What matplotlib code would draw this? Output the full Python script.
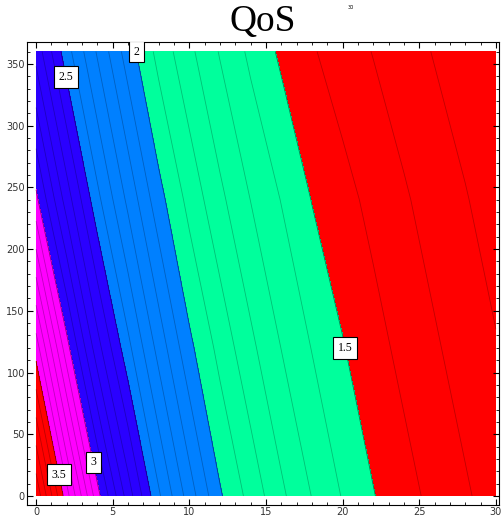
import numpy as np
from matplotlib import pyplot as plt

# QoS on a coarse grid (x every 2, y every 120)
x_nodes = [0, 2, 4, 6, 8, 10, 12, 14, 16, 18, 20, 22, 24, 26, 28, 30]
y_nodes = [0, 120, 240, 360]
qos_y0 = [3.90, 3.45, 3.03, 2.71, 2.43, 2.21, 2.01, 1.888, 1.767, 1.664, 1.578, 1.504, 1.447, 1.393, 1.344, 1.296]
qos_y120 = [3.46, 3.03, 2.70, 2.44, 2.22, 2.02, 1.89, 1.77, 1.665, 1.58, 1.505, 1.447, 1.393, 1.344, 1.296, 1.255]
qos_y240 = [3.02, 2.71, 2.44, 2.23, 2.03, 1.89, 1.77, 1.665, 1.58, 1.497, 1.445, 1.393, 1.344, 1.296, 1.255, 1.215]
qos_y360 = [2.72, 2.45, 2.24, 2.04, 1.89, 1.77, 1.66, 1.565, 1.484, 1.425, 1.375, 1.33, 1.285, 1.245, 1.21, 1.175]

band_levels = [0, 1.5, 2, 2.5, 3, 3.5, 5]
band_colors = ['#FF0000', '#00FF9C', '#0080FF', '#2A00FF', '#FF00FF', '#FF0000']
label_levels = [1.5, 2, 2.5, 3, 3.5]
label_spots = [(19.8, 119), (6.1, 359), (1.8, 339), (3.6, 27), (1.4, 17)]

Z = np.array([qos_y0, qos_y120, qos_y240, qos_y360])
X, Y = np.meshgrid(x_nodes, y_nodes)

fig = plt.figure(figsize=(5.01, 5.20), dpi=100)
ax = fig.add_axes([27 / 501, 1 - 505 / 520, 472 / 501, 463 / 520])

ax.contourf(X, Y, Z, levels=band_levels, colors=band_colors)
ax.contour(X, Y, Z, levels=np.arange(1.0, 4.0, 1 / 12), colors='k', alpha=0.25, linewidths=0.6)
cs = ax.contour(X, Y, Z, levels=label_levels, colors='k', alpha=0.3, linewidths=0.6)

labels = ax.clabel(cs, inline=False, manual=label_spots, fmt=lambda v: f'{v:g}', fontsize=8.5, colors='k')
for t in labels:
    t.set_rotation(0)
    t.set_alpha(1)
    t.set_family('Liberation Serif')
    t.set_bbox(dict(facecolor='white', edgecolor='black', linewidth=0.8, boxstyle='square,pad=0.4'))

ax.set_xlim(-0.59, 30.2)
ax.set_ylim(-7.3, 367.7)
ax.set_xticks([0, 5, 10, 15, 20, 25, 30])
ax.set_xticks(np.arange(0, 31, 1), minor=True)
ax.set_yticks([0, 50, 100, 150, 200, 250, 300, 350])
ax.set_yticks(np.arange(0, 361, 10), minor=True)
ax.tick_params(which='both', direction='in', top=True, right=True, labelsize=7, labelcolor='#333333', pad=1.5)
ax.tick_params(which='major', length=4, width=0.8)
ax.tick_params(which='minor', length=2, width=0.6)

fig.text(0.525, 0.958, 'QoS', ha='center', va='center', fontsize=27, family='Liberation Serif')
fig.text(0.70, 0.985, '30', ha='center', va='center', fontsize=3.5)

fig.savefig('out.png', dpi=100)
